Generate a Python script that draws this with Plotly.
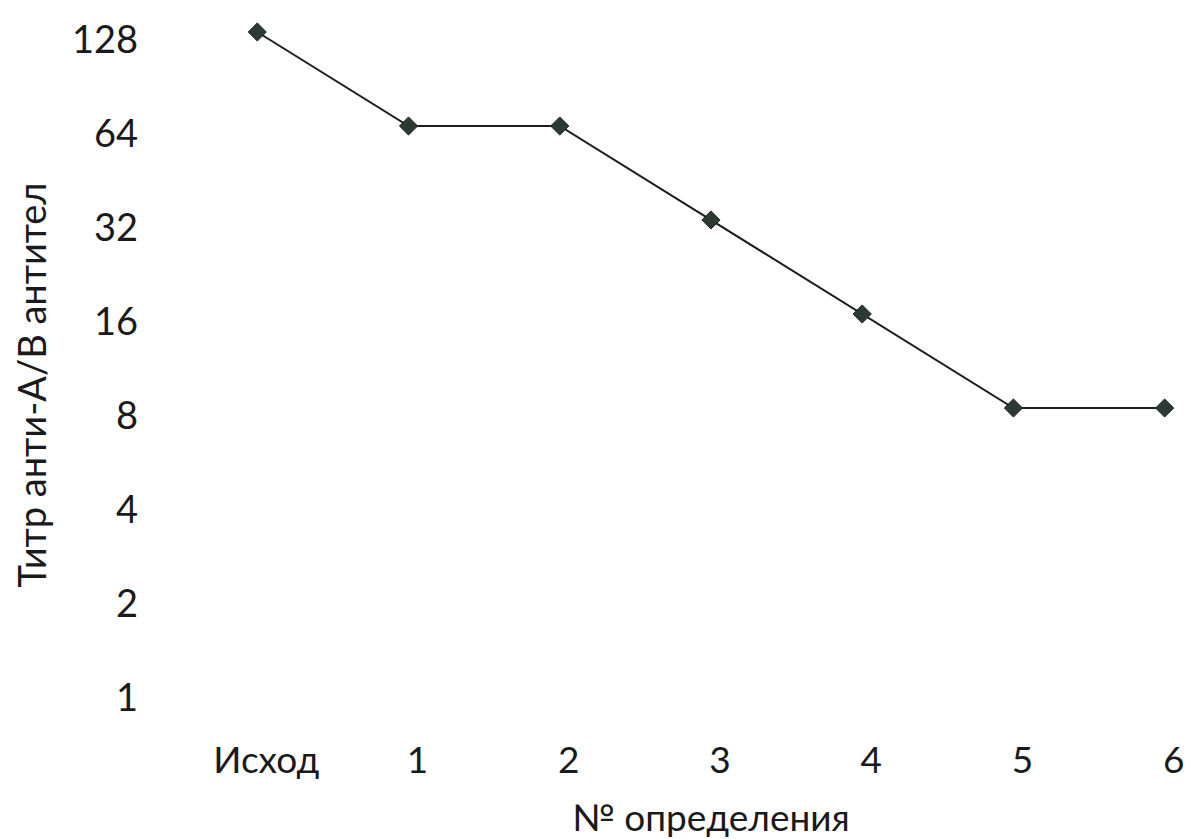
import plotly.graph_objects as go
import math

categories = ["Исход", "1", "2", "3", "4", "5", "6"]
titer = [128, 64, 64, 32, 16, 8, 8]
y_ticks = [1, 2, 4, 8, 16, 32, 64, 128]
y_ticklabels = ["1", "2", "4", "8", "16", "32", "64", "128"]
x_title = "№ определения"
y_title = "Титр анти-А/В антител"

FONT = "Lato"
TXT = "#1a1a1a"

fig = go.Figure()
fig.add_trace(go.Scatter(
    x=categories, y=titer, mode="lines+markers",
    line=dict(color="#1c1c1c", width=2),
    marker=dict(symbol="diamond", size=14, color="#2b3a33",
                line=dict(color="#1c2a24", width=1)),
    cliponaxis=False, showlegend=False, hoverinfo="skip",
))

lo = -0.319 * math.log10(2)
hi = 7.234 * math.log10(2)

L, R, T, B = 185, 10, 10, 119
PW, PH = 1194 - L - R, 839 - T - B
BOTTOM = 839 - B

fig.update_layout(
    width=1194, height=839,
    margin=dict(l=L, r=R, t=T, b=B),
    paper_bgcolor="white", plot_bgcolor="white",
    font=dict(family=FONT, color=TXT),
    xaxis=dict(
        type="category", range=[-0.478, 6.022],
        showgrid=False, zeroline=False, showline=False, ticks="",
        tickfont=dict(size=37, family=FONT, color=TXT),
        ticklabelstandoff=15, ticklabelshift=9,
    ),
    yaxis=dict(
        type="log", range=[lo, hi],
        tickvals=y_ticks, ticktext=y_ticklabels,
        showgrid=False, zeroline=False, showline=False, ticks="",
        tickfont=dict(size=38, family=FONT, color=TXT),
        ticklabelstandoff=46, ticklabelshift=8,
    ),
    annotations=[
        dict(text=x_title, xref="paper", yref="paper", x=(720 - L) / PW, y=-(816 - BOTTOM) / PH,
             xanchor="center", yanchor="middle", showarrow=False,
             font=dict(size=37, family=FONT, color=TXT)),
        dict(text=y_title, xref="paper", yref="paper", x=-(L - 28) / PW, y=(BOTTOM - 385) / PH,
             xanchor="center", yanchor="middle", textangle=-90, showarrow=False,
             font=dict(size=38, family=FONT, color=TXT)),
    ],
)

fig.write_html("out.html", config={"displayModeBar": False},
               post_script="document.body.style.margin='0';document.body.style.overflow='hidden';")
